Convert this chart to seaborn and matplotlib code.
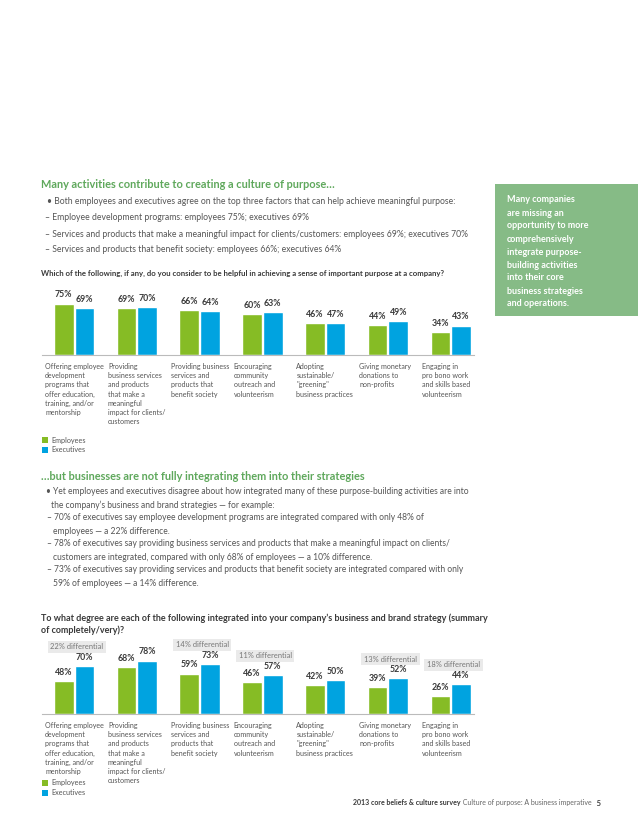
import numpy as np
import pandas as pd
import matplotlib
matplotlib.use('Agg')
import matplotlib.pyplot as plt
import seaborn as sns

# --- data ---
categories = [
    'Offering employee\ndevelopment\nprograms that\noffer education,\ntraining, and/or\nmentorship',
    'Providing\nbusiness services\nand products\nthat make a\nmeaningful\nimpact for clients/\ncustomers',
    'Providing business\nservices and\nproducts that\nbenefit society',
    'Encouraging\ncommunity\noutreach and\nvolunteerism',
    'Adopting\nsustainable/\n"greening"\nbusiness practices',
    'Giving monetary\ndonations to\nnon-profits',
    'Engaging in\npro bono work\nand skills based\nvolunteerism',
]
groups = ['Employees', 'Executives']
helpful_emp = [75, 69, 66, 60, 46, 44, 34]
helpful_exec = [69, 70, 64, 63, 47, 49, 43]
integrated_emp = [48, 68, 59, 46, 42, 39, 26]
integrated_exec = [70, 78, 73, 57, 50, 52, 44]
diff_groups = [0, 2, 3, 5, 6]

GREEN = '#86BC25'
BLUE = '#00A3E0'
HEAD = '#5FA85C'
BOXGREEN = '#86BB86'
TXT = '#555555'
DARK = '#3a3a3a'

sns.set_style('white')
plt.rcParams['font.family'] = ['Lato', 'DejaVu Sans']

W, H = 638, 826
fig = plt.figure(figsize=(W / 100, H / 100), dpi=100)


def fx(x):
    return x / W


def fy(y):
    return 1 - y / H


def txt(x, y, s, size=6.2, color=TXT, weight='normal', **kw):
    return fig.text(fx(x), fy(y), s, fontsize=size, color=color, weight=weight,
                    va='center', ha='left', **kw)


def make_df(emp, exe):
    return pd.DataFrame({
        'cat': list(range(len(categories))) * 2,
        'group': [groups[0]] * len(emp) + [groups[1]] * len(exe),
        'value': list(emp) + list(exe),
    })


def bar_chart(base_px, emp, exe, diffs=False):
    # axes spans 0..110 % with 0.685 px per %
    ymax = 110
    height = ymax * 0.685
    ax = fig.add_axes([fx(42), fy(base_px), fx(474) - fx(42), height / H])
    df = make_df(emp, exe)
    sns.barplot(data=df, x='cat', y='value', hue='group', palette=[GREEN, BLUE],
                width=0.66, gap=0.05, ax=ax, legend=False, saturation=1,
                order=list(range(len(categories))), native_scale=True)
    ax.set_xlim(-0.51, 6.37)
    ax.set_ylim(0, ymax)
    for c in ax.containers:
        ax.bar_label(c, labels=[f'{int(v)}%' for v in c.datavalues], padding=3,
                     fontsize=6.3, weight='bold', color=DARK)
    ax.set_xlabel('')
    ax.set_ylabel('')
    ax.set_xticks([])
    ax.set_yticks([])
    for s in ['top', 'right', 'left']:
        ax.spines[s].set_visible(False)
    ax.spines['bottom'].set_color('#bbbbbb')
    ax.spines['bottom'].set_linewidth(0.8)
    ax.patch.set_alpha(0)
    # category labels under the axis
    for i, lab in enumerate(categories):
        ax.text(i - 0.46, -0.11, lab, transform=ax.get_xaxis_transform(),
                ha='left', va='top', fontsize=5.1, color=TXT, linespacing=1.35)
    if diffs:
        for i in diff_groups:
            d = exe[i] - emp[i]
            ax.text(i - 0.38, max(emp[i], exe[i]) + 28, f'{d}% differential',
                    ha='left', va='center', fontsize=5.4, color='#777777',
                    bbox=dict(boxstyle='square,pad=0.35', fc='#EAEAEA', ec='none'))
    return ax


def legend(y):
    for k, (g, col) in enumerate(zip(groups, [GREEN, BLUE])):
        yy = y + k * 9.5
        fig.patches.append(plt.Rectangle((fx(42), fy(yy + 3)), 6 / W, 6 / H,
                                         transform=fig.transFigure, fc=col, ec='none'))
        txt(51, yy, g, size=5.2)


# --- section 1 ---
txt(41, 184, 'Many activities contribute to creating a culture of purpose\u2026',
    size=7.9, color=HEAD, weight='bold')
txt(47, 202, '\u2022 Both employees and executives agree on the top three factors that can help achieve meaningful purpose:')
txt(45, 218, '\u2013 Employee development programs: employees 75%; executives 69%')
txt(45, 234, '\u2013 Services and products that make a meaningful impact for clients/customers: employees 69%; executives 70%')
txt(45, 250, '\u2013 Services and products that benefit society: employees 66%; executives 64%')

# green side box
fig.patches.append(plt.Rectangle((fx(495), fy(316)), 1 - fx(495), (316 - 184) / H,
                                 transform=fig.transFigure, fc=BOXGREEN, ec='none'))
box_lines = ['Many companies', 'are missing an', 'opportunity to more', 'comprehensively',
             'integrate purpose-', 'building activities', 'into their core',
             'business strategies', 'and operations.']
for k, l in enumerate(box_lines):
    txt(507, 200 + k * 13, l, size=6.5, color='white', weight='bold')

txt(41, 273, 'Which of the following, if any, do you consider to be helpful in achieving a sense of important purpose at a company?',
    size=5.55, color=DARK, weight='bold')

bar_chart(355, helpful_emp, helpful_exec)
legend(440)

# --- section 2 ---
txt(41, 477, '\u2026but businesses are not fully integrating them into their strategies',
    size=7.9, color=HEAD, weight='bold')
lines2 = [
    (46, '\u2022 Yet employees and executives disagree about how integrated many of these purpose-building activities are into'),
    (51, 'the company\u2019s business and brand strategies \u2014 for example:'),
    (47, '\u2013 70% of executives say employee development programs are integrated compared with only 48% of'),
    (53, 'employees \u2014 a 22% difference.'),
    (47, '\u2013 78% of executives say providing business services and products that make a meaningful impact on clients/'),
    (53, 'customers are integrated, compared with only 68% of employees \u2014 a 10% difference.'),
    (47, '\u2013 73% of executives say providing services and products that benefit society are integrated compared with only'),
    (53, '59% of employees \u2014 a 14% difference.'),
]
for k, (x, l) in enumerate(lines2):
    txt(x, 492 + k * 13, l, size=6.15)

txt(41, 618, 'To what degree are each of the following integrated into your company\u2019s business and brand strategy (summary',
    size=6.5, color=DARK, weight='bold')
txt(41, 630, 'of completely/very)?', size=6.5, color=DARK, weight='bold')

bar_chart(714, integrated_emp, integrated_exec, diffs=True)
legend(783)

# footer
t1 = txt(353, 803, '2013 core beliefs & culture survey', size=5.0, color=DARK, weight='bold')
t2 = plt.annotate(' Culture of purpose: A business imperative', xy=(1, 0.5), xycoords=t1,
                  va='center', ha='left', fontsize=5.0, color='#666666')
plt.annotate('   5', xy=(1, 0.5), xycoords=t2, va='center', ha='left',
             fontsize=5.4, color=DARK, weight='bold')

fig.savefig('out.png', dpi=100)
